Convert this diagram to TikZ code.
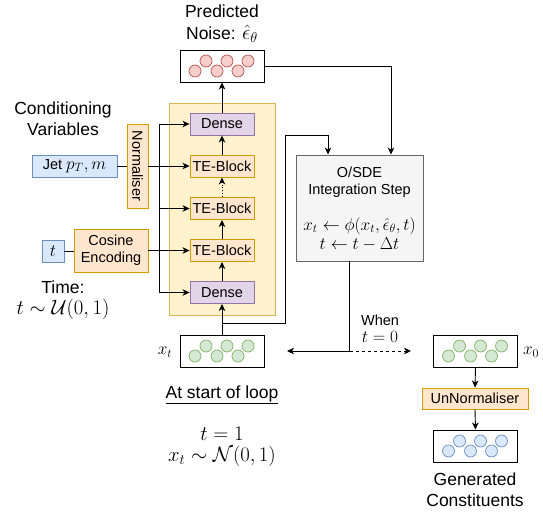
\documentclass[tikz,border=0pt]{standalone}
\usepackage[no-math]{fontspec}
\setmainfont{Liberation Sans}
\usetikzlibrary{arrows.meta,calc}

\definecolor{oFill}{HTML}{FFE6CC}\definecolor{oLine}{HTML}{D79B00}
\definecolor{pFill}{HTML}{E1D5E7}\definecolor{pLine}{HTML}{9673A6}
\definecolor{bFill}{HTML}{DAE8FC}\definecolor{bLine}{HTML}{6C8EBF}
\definecolor{gFill}{HTML}{D5E8D4}\definecolor{gLine}{HTML}{82B366}
\definecolor{rFill}{HTML}{F8CECC}\definecolor{rLine}{HTML}{B85450}
\definecolor{yFill}{HTML}{FFF2CC}\definecolor{yLine}{HTML}{D6B656}
\definecolor{sFill}{HTML}{F5F5F5}\definecolor{sLine}{HTML}{666666}

\newcommand\boxfont{\fontsize{14.5}{17}\selectfont}
\newcommand\lblfont{\fontsize{17.5}{21}\selectfont}
% math set a little larger than the surrounding text
\newcommand\bmath[1]{{\fontsize{17.5}{17.5}\selectfont$#1$}}
\newcommand\smath[1]{{\fontsize{16.5}{16.5}\selectfont$#1$}}
\newcommand\lmath[1]{{\fontsize{21}{21}\selectfont$#1$}}

% six particles in a zig-zag row inside a container box
\newcommand\particles[3]{%
  \foreach \dx/\dy in {-27/5,-16/-5,-5/5,5/-5,16/5,26/-5}
    \draw[fill=#2,draw=#3,line width=0.7pt] ($(#1.center)+(\dx,\dy)$) circle[radius=6pt];
}

\begin{document}
\begin{tikzpicture}[x=1pt,y=-1pt,
  box/.style={draw, line width=0.9pt, inner sep=0pt, font=\boxfont, align=center},
  orangebox/.style={box, fill=oFill, draw=oLine},
  purplebox/.style={box, fill=pFill, draw=pLine},
  bluebox/.style={box, fill=bFill, draw=bLine},
  graybox/.style={box, fill=sFill, draw=sLine},
  partbox/.style={box, fill=white, draw=black, minimum width=84pt, minimum height=32pt},
  blockbox/.style={minimum width=64pt, minimum height=22pt},
  lbl/.style={font=\lblfont, align=center, inner sep=0pt},
  arr/.style={line width=0.9pt, -{Stealth[length=7pt,width=6.5pt,inset=2pt]}},
  plain/.style={line width=0.9pt}]
\useasboundingbox (0,0) rectangle (543,516);

% network container
\node[box, fill=yFill, draw=yLine, minimum width=106pt, minimum height=212pt] (net) at (222,209) {};

% network layers
\node[purplebox, blockbox] (dtop) at (222,124) {Dense};
\node[orangebox, blockbox] (te1) at (222,166) {TE-Block};
\node[orangebox, blockbox] (te2) at (222,208.5) {TE-Block};
\node[orangebox, blockbox] (te3) at (222,250.5) {TE-Block};
\node[purplebox, blockbox] (dbot) at (222,292.5) {Dense};

% particle containers
\node[partbox] (noise) at (222,66) {};
\particles{noise}{rFill}{rLine}
\node[partbox] (xt) at (222,351) {};
\particles{xt}{gFill}{gLine}
\node[partbox] (x0) at (475.5,351) {};
\particles{x0}{gFill}{gLine}
\node[partbox] (gen) at (475.5,446) {};
\particles{gen}{bFill}{bLine}

% conditioning inputs
\node[bluebox, minimum width=85pt, minimum height=22pt] (jet) at (74.5,166) {Jet \bmath{p_T, m}};
\node[orangebox, minimum width=21pt, minimum height=84pt] (norm) at (137.5,166) {};
\node[rotate=-90, font=\boxfont, inner sep=0pt] (normtxt) at (norm.center) {Normaliser};
\node[bluebox, minimum width=22pt, minimum height=22pt] (tbox) at (53,251) {\bmath{t}};
\node[orangebox, minimum width=74pt, minimum height=43pt] (cos) at (111,250.5) {Cosine\\Encoding};

% integrator
\node[graybox, minimum width=127pt, minimum height=106pt] (osde) at (359.5,208) {};
\node[font=\boxfont, align=center, inner sep=0pt] (osdetxt) at (359.5,182) {O/SDE\\Integration Step};
\node[inner sep=0pt] (osdemath1) at (359.5,226) {\smath{x_t \leftarrow \phi(x_t, \hat{\epsilon}_\theta, t)}};
\node[inner sep=0pt] (osdemath2) at (359.5,244.5) {\smath{t \leftarrow t - \Delta t}};

\node[orangebox, minimum width=106pt, minimum height=21pt] (unnorm) at (475,398.5) {UnNormaliser};

% labels
\node[lbl] (predlbl) at (222,24) {Predicted\\[1pt]Noise: \lmath{\hat{\epsilon}_\theta}};
\node[lbl] (condlbl) at (63,119) {Conditioning\\Variables};
\node[lbl] (timelbl) at (63,300) {Time:\\\lmath{t \sim \mathcal{U}(0,1)}};
\node[lbl] (startlbl) at (222,395) {\underline{At start of loop}};
\node[lbl] (initlbl) at (222,447) {\lmath{t = 1}\\\lmath{x_t \sim \mathcal{N}(0,1)}};
\node[lbl] (genlbl) at (475,490) {Generated\\Constituents};
\node[font=\boxfont, align=center, inner sep=0pt] (whenlbl) at (380,329) {When\\\bmath{t = 0}};
\node[inner sep=0pt] (xtlbl) at (165,352) {\bmath{x_t}};
\node[inner sep=0pt] (x0lbl) at (531,352) {\bmath{x_0}};

% forward pass through the network
\draw[arr] (xt.north) -- (dbot.south);
\draw[arr] (dbot.north) -- (te3.south);
\draw[arr] (te3.north) -- (te2.south);
\draw[arr, dotted] (te2.north) -- (te1.south);
\draw[arr] (te1.north) -- (dtop.south);
\draw[arr] (dtop.north) -- (noise.south);

% conditioning connections
\draw[plain] (jet.east) -- (norm.west);
\draw[arr] (norm.east) -- (te1.west);
\draw[arr] (norm.east) -- ++(11,0) |- (dtop.west);
\draw[arr] (norm.east) -- ++(11,0) |- (te2.west);
\draw[arr] (norm.east) -- ++(11,0) |- (dbot.west);
\draw[plain] (tbox.east) -- (cos.west |- tbox.east);
\draw[arr] (cos.east) -- (te3.west);

% integration loop
\coordinate (lc) at (285,135);
\draw[arr] ([yshift=11pt]xt.north) -| (lc) -| ([xshift=-31.5pt]osde.north);
\draw[arr] (noise.east) -| ([xshift=31.5pt]osde.north);
\coordinate (ret) at (287,351);
\coordinate (fwd) at (411,351);
\draw[arr] ([xshift=-10.5pt]osde.south) |- (ret);
\draw[arr, dashed] ([xshift=-9.7pt]osde.south) |- (fwd);

% post-processing
\draw[arr] (x0.south) -- (unnorm.north);
\draw[arr] (unnorm.south) -- (gen.north);
\end{tikzpicture}
\end{document}
